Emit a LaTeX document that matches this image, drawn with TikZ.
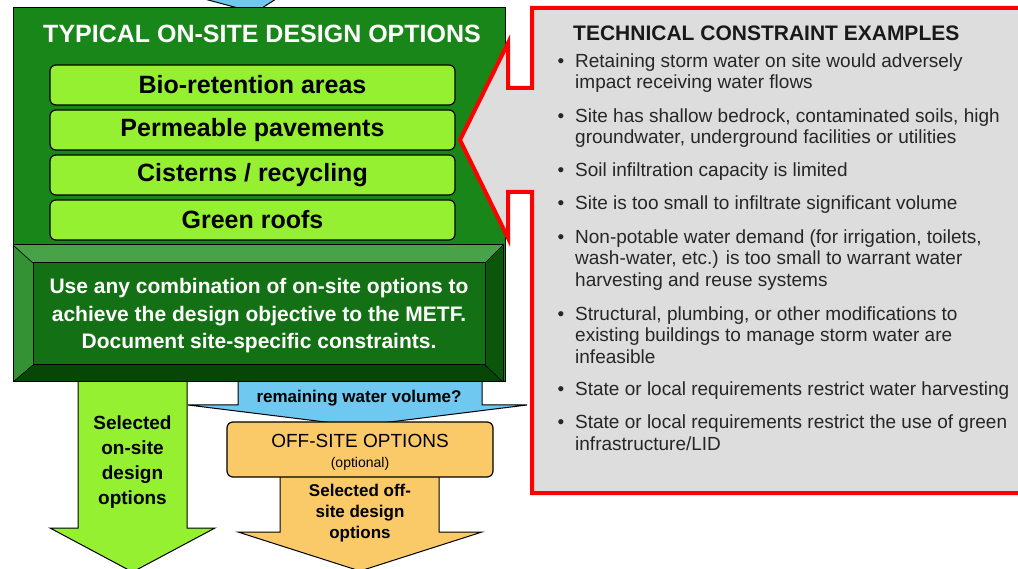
\documentclass[tikz,border=0pt]{standalone}
\usepackage{fontspec}
\setmainfont{Liberation Sans}
\definecolor{sitegreen}{RGB}{24,134,24}
\definecolor{facegreen}{RGB}{20,112,20}
\definecolor{bevtop}{RGB}{72,162,72}
\definecolor{bevleft}{RGB}{52,146,52}
\definecolor{bevright}{RGB}{12,86,12}
\definecolor{bevbottom}{RGB}{8,70,8}
\definecolor{limegreen}{RGB}{150,240,50}
\definecolor{waterblue}{RGB}{110,200,240}
\definecolor{offorange}{RGB}{250,202,105}
\definecolor{panelgray}{RGB}{221,221,221}
\newcommand{\blt}{\makebox[0pt][r]{\textbullet\hspace{11pt}}}
\tikzset{
    optbox/.style={draw, line width=1.2pt, rounded corners=6pt, fill=limegreen,
        minimum width=405pt, minimum height=40pt, inner sep=0pt,
        font=\bfseries\fontsize{25}{30}\selectfont},
    blockarrow/.style={draw, line width=1pt},
    constraint/.style={anchor=base west, align=left, inner sep=0pt,
        text=black!85, font=\fontsize{19}{21.5}\selectfont}
}

\begin{document}
\begin{tikzpicture}[x=1pt,y=-1pt]
    \useasboundingbox (0,0) rectangle (1018,569);
    \clip (0,0) rectangle (1018,569);
    \draw[blockarrow, fill=waterblue] (197,-3) -- (238,8) -- (262,8) -- (279,-3) -- cycle;

    \draw[blockarrow, fill=limegreen] (78,380) -- (187,380) -- (187,528) -- (215,528) -- (132.5,572)
        -- (50,528) -- (78,528) -- cycle;
    \node[align=center, font=\bfseries\fontsize{19}{25}\selectfont] (onsel) at (132.5,462.5)
        {Selected\\on-site\\design\\options};

    \draw[blockarrow, fill=waterblue] (238,375) -- (482,375) -- (482,405) -- (527,405) -- (357.5,426)
        -- (188,405) -- (238,405) -- cycle;
    \node[font=\bfseries\fontsize{17}{20}\selectfont] (remain) at (359,398) {remaining water volume?};

    \draw[blockarrow, fill=offorange] (280,470) -- (439,470) -- (439,532) -- (482,532) -- (360,571)
        -- (238,532) -- (280,532) -- cycle;
    \node[draw, line width=1.2pt, rounded corners=6pt, fill=offorange, minimum width=266pt,
        minimum height=55pt] (offbox) at (360,449.5) {};
    \node[font=\fontsize{19}{22}\selectfont] (offtitle) at (360,441) {OFF-SITE OPTIONS};
    \node[font=\fontsize{14}{16}\selectfont] (offnote) at (360,464) {(optional)};
    \node[align=center, font=\bfseries\fontsize{17}{21}\selectfont] (offsel) at (360,513)
        {Selected off-\\site design\\options};

    \draw[line width=1pt, fill=sitegreen] (13,8) rectangle (505,382);
    \node[text=white, font=\bfseries\fontsize{25}{30}\selectfont] (ontitle) at (262,34)
        {TYPICAL ON-SITE DESIGN OPTIONS};
    \node[optbox] (bio) at (252.5,85) {Bio-retention areas};
    \node[optbox] (perm) at (252.5,130) {Permeable pavements};
    \node[optbox] (cist) at (252.5,175) {Cisterns / recycling};
    \node[optbox] (roof) at (252.5,220) {Green roofs};

    \fill[bevtop] (13,245) -- (503,245) -- (485,263) -- (33,263) -- cycle;
    \fill[bevleft] (13,245) -- (33,263) -- (33,365) -- (13,382) -- cycle;
    \fill[bevright] (503,245) -- (503,382) -- (485,365) -- (485,263) -- cycle;
    \fill[bevbottom] (13,382) -- (33,365) -- (485,365) -- (503,382) -- cycle;
    \draw[line width=1pt, fill=facegreen] (33,263) rectangle (485,365);
    \draw[line width=1pt] (13,245) rectangle (503,382);
    \draw[line width=0.6pt] (13,245) -- (33,263) (503,245) -- (485,263) (13,382) -- (33,365) (503,382) -- (485,365);
    \node[align=center, text=white, font=\bfseries\fontsize{21}{27.5}\selectfont] (combine) at (259,316)
        {Use any combination of on-site options to\\achieve the design objective to the METF.\\Document site-specific constraints.};

    \draw[draw=red, line width=4pt, fill=panelgray] (532,8) -- (1030,8) -- (1030,493) -- (532,493)
        -- (532,192) -- (508,192) -- (508,238) -- (460,140) -- (508,43) -- (508,88) -- (532,88) -- cycle;
    \node[anchor=base west, inner sep=0pt, text=black!90, font=\bfseries\fontsize{21}{24}\selectfont]
        (techtitle) at (573,40.5) {TECHNICAL CONSTRAINT EXAMPLES};
    \node[constraint] (c1) at (575,89) {\blt Retaining storm water on site would adversely\\impact receiving water flows};
    \node[constraint] (c2) at (575,144) {\blt Site has shallow bedrock, contaminated soils, high\\groundwater, underground facilities or utilities};
    \node[constraint] (c3) at (575,176.5) {\blt Soil infiltration capacity is limited};
    \node[constraint] (c4) at (575,209.5) {\blt Site is too small to infiltrate significant volume};
    \node[constraint] (c5) at (575,286.5) {\blt Non-potable water demand (for irrigation, toilets,\\wash-water, etc.) is too small to warrant water\\harvesting and reuse systems};
    \node[constraint] (c6) at (575,363.5) {\blt Structural, plumbing, or other modifications to\\existing buildings to manage storm water are\\infeasible};
    \node[constraint] (c7) at (575,395.5) {\blt State or local requirements restrict water harvesting};
    \node[constraint] (c8) at (575,450) {\blt State or local requirements restrict the use of green\\infrastructure/LID};
\end{tikzpicture}
\end{document}
